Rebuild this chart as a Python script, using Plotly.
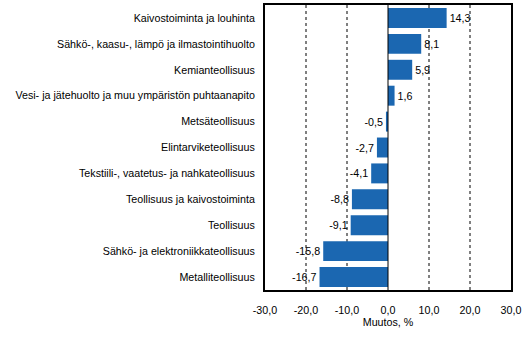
import plotly.graph_objects as go

categories = [
    "Kaivostoiminta ja louhinta",
    "Sähkö-, kaasu-, lämpö ja ilmastointihuolto",
    "Kemianteollisuus",
    "Vesi- ja jätehuolto ja muu ympäristön puhtaanapito",
    "Metsäteollisuus",
    "Elintarviketeollisuus",
    "Tekstiili-, vaatetus- ja nahkateollisuus",
    "Teollisuus ja kaivostoiminta",
    "Teollisuus",
    "Sähkö- ja elektroniikkateollisuus",
    "Metalliteollisuus",
]
values = [14.3, 8.1, 5.9, 1.6, -0.5, -2.7, -4.1, -8.8, -9.1, -15.8, -16.7]
x_ticks = [-30, -20, -10, 0, 10, 20, 30]
x_tick_labels = ["-30,0", "-20,0", "-10,0", "0,0", "10,0", "20,0", "30,0"]

FONT = "Liberation Sans Narrow, Arial Narrow, Liberation Sans, Arial, sans-serif"
FS = 10.7

value_text = [f"{v:.1f}".replace(".", ",") for v in values]

fig = go.Figure()
fig.add_trace(go.Bar(
    x=values, y=categories, orientation="h",
    marker=dict(color="#1b67b1", line=dict(width=0)),
    text=value_text, textposition="outside",
    textfont=dict(family=FONT, size=FS, color="black"),
    cliponaxis=False,
))

# dashed gridlines and zero line
for v in x_ticks:
    if v in (-30, 30):
        continue
    fig.add_shape(type="line", xref="x", yref="paper", x0=v, x1=v, y0=0, y1=1,
                  line=dict(color="black", width=1, dash="solid" if v == 0 else "3px,3px"),
                  layer="above" if v == 0 else "below")

fig.update_layout(
    width=532, height=342,
    margin=dict(l=265, r=21, t=5, b=52, autoexpand=False),
    paper_bgcolor="white", plot_bgcolor="white",
    showlegend=False,
    bargap=0.23,
    font=dict(family=FONT, size=FS, color="black"),
    xaxis=dict(
        range=[-30, 30], tickvals=x_ticks, ticktext=x_tick_labels,
        showgrid=False, zeroline=False,
        showline=True, linecolor="black", linewidth=2, mirror=True,
        ticks="", ticklabelstandoff=9, automargin=False,
        title=dict(text="Muutos, %", standoff=3, font=dict(size=FS)),
        tickfont=dict(size=FS),
    ),
    yaxis=dict(
        autorange="reversed", showgrid=False, zeroline=False,
        showline=True, linecolor="black", linewidth=2, mirror=True,
        ticks="", ticklabelstandoff=6, tickfont=dict(size=FS), automargin=False,
    ),
)

fig.write_html("out.html")
